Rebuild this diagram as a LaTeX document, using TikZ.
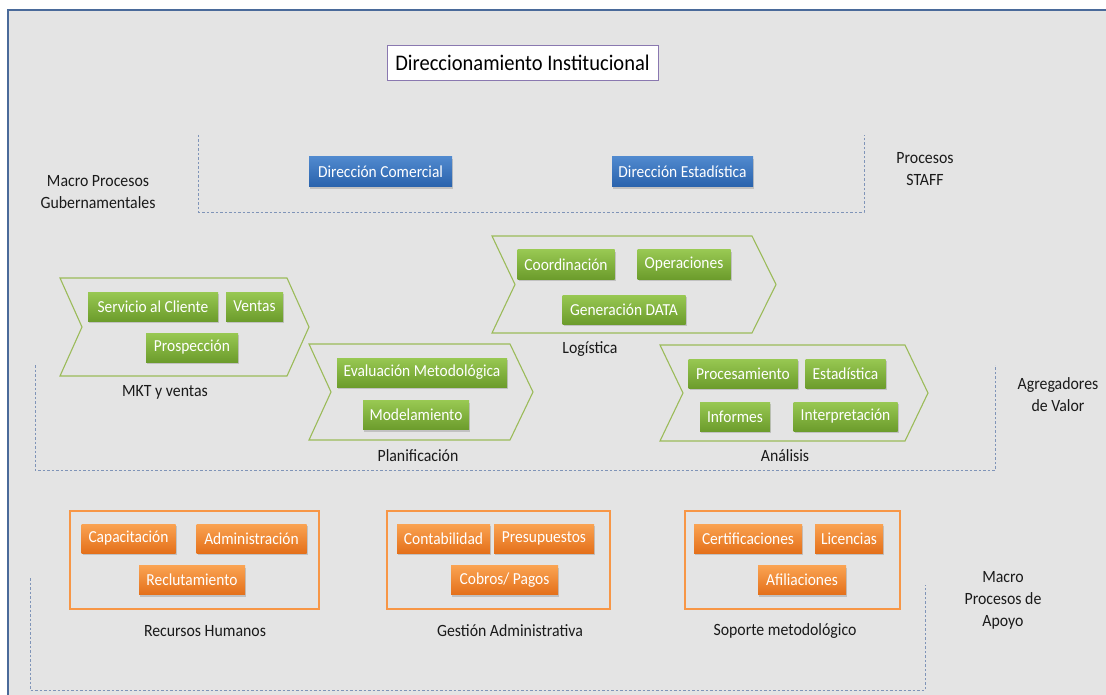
\documentclass[tikz,border=0pt]{standalone}
\usepackage{fontspec}
\setmainfont{Carlito}[FakeStretch=0.92]
\usetikzlibrary{shadows}

\definecolor{panelgray}{HTML}{E4E4E4}
\definecolor{frameblue}{HTML}{4A6A9A}
\definecolor{guide}{HTML}{7F94B8}
\definecolor{chevgreen}{HTML}{9BBB59}
\definecolor{gtop}{HTML}{98C852}
\definecolor{gbot}{HTML}{6C9C2C}
\definecolor{otop}{HTML}{FAA352}
\definecolor{obot}{HTML}{E4701A}
\definecolor{oline}{HTML}{F79646}
\definecolor{btop}{HTML}{5089CE}
\definecolor{bbot}{HTML}{2962AC}
\definecolor{titleline}{HTML}{8A78B0}
\definecolor{labeltext}{HTML}{1A1A1A}

\begin{document}
\begin{tikzpicture}[x=1pt,y=-1pt,
  every node/.style={font=\fontsize{17.2}{21}\selectfont, text=labeltext},
  tag/.style={rectangle, inner sep=0pt, minimum height=29pt, text=white,
    font=\fontsize{16.8}{20}\selectfont,
    drop shadow={shadow xshift=1pt, shadow yshift=-2pt, opacity=.35}},
  greenbox/.style={tag, top color=gtop, bottom color=gbot},
  orangebox/.style={tag, top color=otop, bottom color=obot},
  bluebox/.style={tag, top color=btop, bottom color=bbot, minimum height=30pt},
  chev/.style={draw=chevgreen, line width=1.1pt},
  group/.style={draw=oline, line width=1.1pt},
  guideline/.style={draw=guide, line width=.8pt, dash pattern=on 2.5pt off 2pt},
  caption/.style={font=\fontsize{17.2}{21}\selectfont, align=center},
  sidelabel/.style={font=\fontsize{17.2}{22}\selectfont, align=center}
]
\useasboundingbox (0,0) rectangle (1106,695);

% page and panel
\fill[white] (0,0) rectangle (1106,695);
\fill[panelgray] (9,11) rectangle (1106,695);
\draw[frameblue, line width=2pt] (8,695) -- (8,10) -- (1106,10);

% heading
\node[draw=titleline, fill=white, line width=.8pt, minimum width=271pt, minimum height=35pt,
  inner sep=0pt, font=\fontsize{22.3}{26}\selectfont, text=black] (title) at (522.5,63) {Direccionamiento Institucional};

% staff band
\draw[guideline] (198,135) -- (198,212) -- (864,212) -- (864,135);
\node[bluebox, minimum width=143pt] (dcom) at (380.5,172) {Dirección Comercial};
\node[bluebox, minimum width=141pt] (dest) at (682.5,172) {Dirección Estadística};
\node[sidelabel] (gob) at (98,192) {Macro Procesos\\Gubernamentales};
\node[sidelabel] (staff) at (925,169) {Procesos\\STAFF};

% value chain band
\draw[guideline] (35,365) -- (35,470) -- (995,470) -- (995,365);
\node[sidelabel] (valor) at (1058,395) {Agregadores\\de Valor};

% MKT y ventas
\draw[chev] (60,278) -- (287,278) -- (309,327) -- (287,376) -- (60,376) -- (82,327) -- cycle;
\node[greenbox, minimum width=130pt] (serv) at (153,306.5) {Servicio al Cliente};
\node[greenbox, minimum width=57pt] (vent) at (254.5,306.5) {Ventas};
\node[greenbox, minimum width=92pt] (prosp) at (192,347.5) {Prospección};
\node[caption] (mkt) at (165,392) {MKT y ventas};

% Planificación
\draw[chev] (309,344) -- (510,344) -- (533,392) -- (510,440) -- (309,440) -- (331,392) -- cycle;
\node[greenbox, minimum width=170pt] (evalm) at (422,372.5) {Evaluación Metodológica};
\node[greenbox, minimum width=106pt] (model) at (416,415) {Modelamiento};
\node[caption] (plan) at (418,456) {Planificación};

% Logística
\draw[chev] (492,236) -- (752,236) -- (776,284.5) -- (752,333) -- (492,333) -- (515,284.5) -- cycle;
\node[greenbox, minimum width=97pt] (coord) at (566,264.5) {Coordinación};
\node[greenbox, minimum width=93pt] (oper) at (684,264.5) {Operaciones};
\node[greenbox, minimum width=123pt] (gdata) at (624,309.5) {Generación DATA};
\node[caption] (logi) at (590,349) {Logística};

% Análisis
\draw[chev] (660,345) -- (905,345) -- (928,393) -- (905,441) -- (660,441) -- (683,393) -- cycle;
\node[greenbox, minimum width=109pt] (proc) at (743,373.5) {Procesamiento};
\node[greenbox, minimum width=80pt] (estad) at (845.5,373.5) {Estadística};
\node[greenbox, minimum width=70pt] (inform) at (735,416.5) {Informes};
\node[greenbox, minimum width=104pt] (interp) at (845.5,416.5) {Interpretación};
\node[caption] (anal) at (785,456) {Análisis};

% support band
\draw[guideline] (30,578) -- (30,690) -- (925,690) -- (925,585);
\node[sidelabel] (apoyo) at (1003,600) {Macro\\Procesos de\\Apoyo};

% Recursos Humanos
\draw[group] (70,511) rectangle (319,609);
\node[orangebox, minimum width=94pt] (capa) at (128.5,538.5) {Capacitación};
\node[orangebox, minimum width=110pt] (admin) at (251.5,538.5) {Administración};
\node[orangebox, minimum width=106pt] (reclu) at (192,580) {Reclutamiento};
\node[caption] (rrhh) at (205,631) {Recursos Humanos};

% Gestión Administrativa
\draw[group] (387,511) rectangle (610,609);
\node[orangebox, minimum width=93pt] (conta) at (443.5,538.5) {Contabilidad};
\node[orangebox, minimum width=100pt] (presu) at (544,538.5) {Presupuestos};
\node[orangebox, minimum width=107pt] (cobros) at (504.5,580) {Cobros/ Pagos};
\node[caption] (gestion) at (510,631) {Gestión Administrativa};

% Soporte metodológico
\draw[group] (685,511) rectangle (900,609);
\node[orangebox, minimum width=108pt] (certi) at (748,538.5) {Certificaciones};
\node[orangebox, minimum width=68pt] (licen) at (849,538.5) {Licencias};
\node[orangebox, minimum width=88pt] (afili) at (802,580) {Afiliaciones};
\node[caption] (soporte) at (785,631) {Soporte metodológico};
\end{tikzpicture}
\end{document}
